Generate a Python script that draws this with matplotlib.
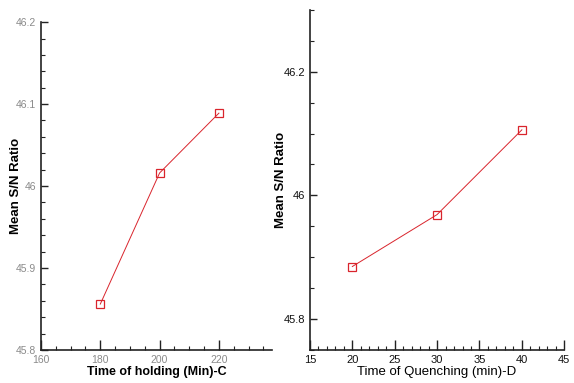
import matplotlib

matplotlib.use("Agg")
import matplotlib.pyplot as plt
from matplotlib.ticker import MultipleLocator

# Holding time (C) vs mean S/N ratio
holding_time = [180, 200, 220]
holding_sn = [45.856, 46.016, 46.089]

# Quenching time (D) vs mean S/N ratio
quench_time = [20, 30, 40]
quench_sn = [45.885, 45.969, 46.106]

NARROW = ["Liberation Sans", "DejaVu Sans"]

fig = plt.figure(figsize=(5.74, 3.83), dpi=100)
ax1 = fig.add_axes([0.0714, 0.0862, 0.403, 0.856])
ax2 = fig.add_axes([0.540, 0.0862, 0.443, 0.888])

for ax, x, y in ((ax1, holding_time, holding_sn), (ax2, quench_time, quench_sn)):
    ax.plot(x, y, "-", color="#d9242c", lw=0.7,
            marker="s", ms=6, mfc="none", mec="#d9242c", mew=0.9)
    for side in ("top", "right"):
        ax.spines[side].set_visible(False)
    for side in ("left", "bottom"):
        ax.spines[side].set_linewidth(1.2)
        ax.spines[side].set_color("#222222")
    ax.tick_params(which="both", direction="in", color="#222222")
    ax.tick_params(axis="x", which="major", length=7, width=1.0)
    ax.tick_params(axis="y", which="major", length=5, width=1.0)
    ax.tick_params(which="minor", length=3, width=0.8)
    ax.set_ylabel("Mean S/N Ratio", fontsize=9.5, fontweight="bold", family=NARROW)

# left panel
ax1.set_xlim(160, 238)
ax1.set_ylim(45.8, 46.2)
ax1.xaxis.set_major_locator(MultipleLocator(20))
ax1.xaxis.set_minor_locator(MultipleLocator(5))
ax1.yaxis.set_minor_locator(MultipleLocator(0.02))
ax1.set_yticks([45.8, 45.9, 46.0, 46.1, 46.2])
ax1.set_yticklabels(["45.8", "45.9", "46", "46.1", "46.2"])
for lab in ax1.get_xticklabels() + ax1.get_yticklabels():
    lab.set_family(NARROW)
    lab.set_fontsize(7.5)
    lab.set_color("#8a8a8a")
ax1.set_xlabel("Time of holding (Min)-C", fontsize=9, fontweight="bold",
               family=NARROW, labelpad=1)
ax1.yaxis.set_label_coords(-0.08, 0.5)

# right panel
ax2.set_xlim(15, 45)
ax2.set_ylim(45.75, 46.30)
ax2.xaxis.set_major_locator(MultipleLocator(5))
ax2.xaxis.set_minor_locator(MultipleLocator(1))
ax2.set_yticks([45.8, 46.0, 46.2])
ax2.set_yticklabels(["45.8", "46", "46.2"])
ax2.yaxis.set_minor_locator(MultipleLocator(0.05))
for lab in ax2.get_xticklabels() + ax2.get_yticklabels():
    lab.set_family(NARROW)
    lab.set_fontsize(8)
    lab.set_color("#111111")
ax2.set_xlabel("Time of Quenching (min)-D", fontsize=9.5, family=NARROW, labelpad=1)
ax2.yaxis.set_label_coords(-0.09, 0.5)

fig.savefig("out.png", dpi=100)
